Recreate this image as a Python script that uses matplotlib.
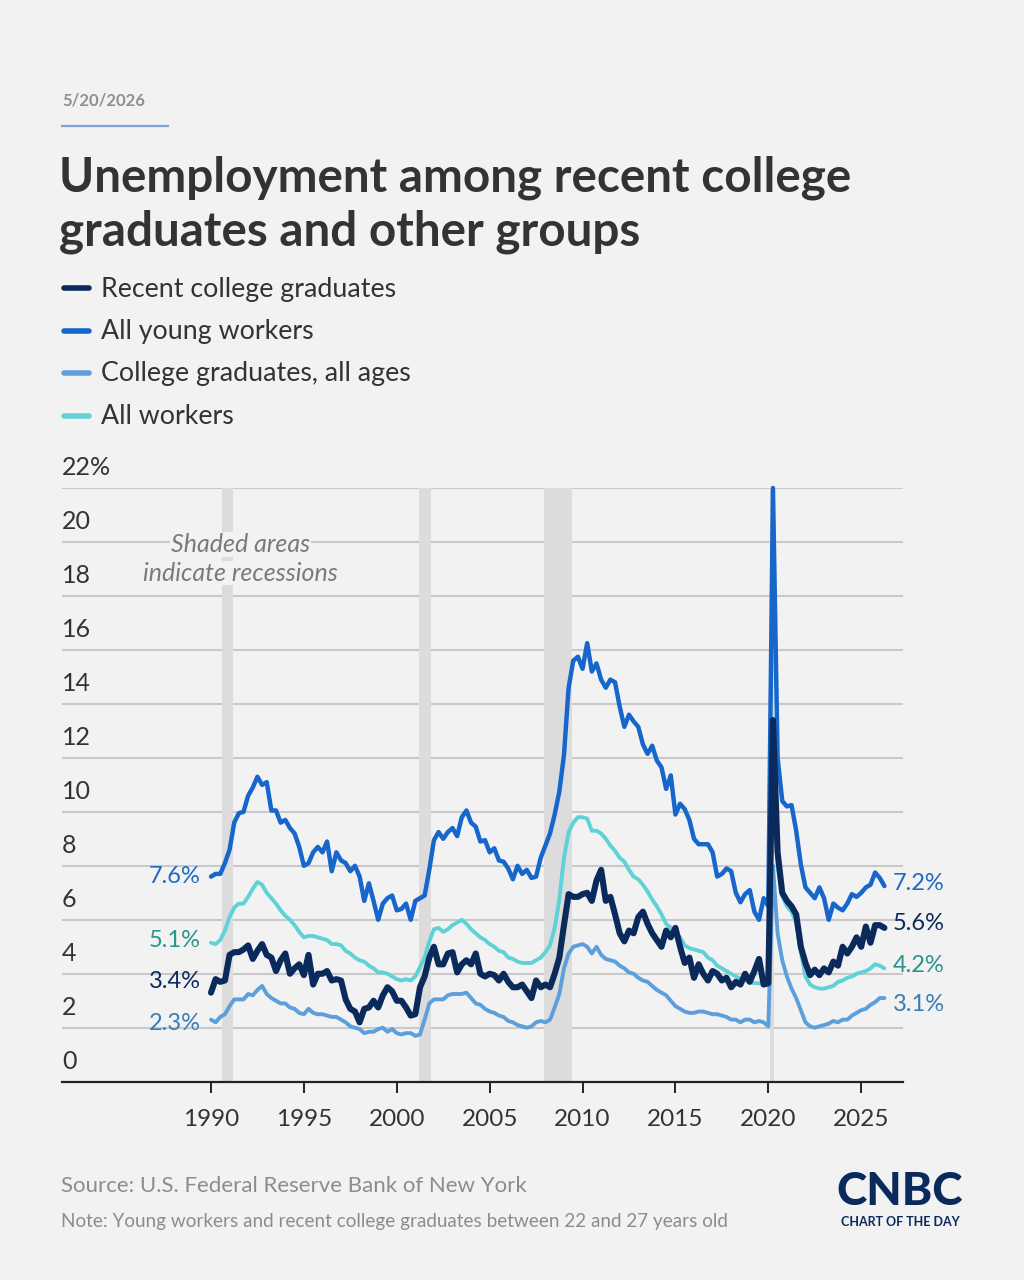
import numpy as np
import matplotlib.pyplot as plt
from matplotlib.transforms import blended_transform_factory

plt.rcParams['font.family'] = ['Lato', 'DejaVu Sans']

# Quarterly readings, 1990 Q1 .. 2026 Q2 (percent)
start_year = 1990
step = 0.25

recent_grads = [
    3.3, 3.8, 3.7, 3.75,   4.7, 4.8, 4.8, 4.9,   5.05, 4.55, 4.85, 5.1,
    4.7, 4.6, 4.1, 4.5,    4.75, 4.0, 4.2, 4.35,  3.95, 4.7, 3.6, 4.0,
    4.0, 4.1, 3.75, 3.8,   3.75, 3.05, 2.7, 2.6,  2.2, 2.7, 2.75, 3.0,
    2.75, 3.2, 3.5, 3.35,  3.0, 3.0, 2.75, 2.45,  2.5, 3.5, 3.9, 4.6,
    5.0, 4.35, 4.35, 4.75, 4.8, 4.05, 4.35, 4.5,  4.35, 4.75, 4.0, 3.9,
    4.0, 3.95, 3.75, 4.0,  3.7, 3.5, 3.5, 3.6,    3.35, 3.1, 3.75, 3.5,
    3.6, 3.5, 4.0, 4.6,    5.8, 6.95, 6.85, 6.85, 6.95, 7.0, 6.7, 7.45,
    7.85, 6.7, 6.85, 6.2,  5.5, 5.2, 5.6, 5.5,    6.1, 6.3, 5.85, 5.5,
    5.25, 5.0, 5.6, 5.35,  5.7, 5.0, 4.4, 4.6,    3.85, 4.35, 4.0, 3.75,
    4.1, 4.0, 3.75, 3.85,  3.5, 3.7, 3.6, 4.0,    3.7, 4.1, 4.55, 3.6,
    3.65, 13.4, 8.5, 7.0,  6.7, 6.5, 6.2, 5.0,    4.4, 3.95, 4.15, 3.95,
    4.2, 4.05, 4.45, 4.3,  5.0, 4.75, 5.0, 5.35,  5.0, 5.75, 5.15, 5.8,
    5.8, 5.7,
]

young_workers = [
    7.6, 7.7, 7.7, 8.1,    8.6, 9.6, 9.95, 10.0,  10.6, 10.9, 11.3, 11.0,
    11.1, 10.05, 10.05, 9.6, 9.7, 9.4, 9.2, 8.7,  8.0, 8.1, 8.5, 8.7,
    8.5, 8.9, 7.8, 8.5,    8.2, 8.1, 7.8, 8.0,    7.6, 6.7, 7.35, 6.7,
    6.0, 6.6, 6.8, 6.9,    6.35, 6.4, 6.6, 6.0,   6.7, 6.8, 6.9, 7.85,
    8.95, 9.25, 9.0, 9.25, 9.4, 9.1, 9.8, 10.05,  9.6, 9.45, 8.9, 8.95,
    8.5, 8.65, 8.2, 8.15,  7.9, 7.5, 8.0, 7.7,    7.85, 7.55, 7.6, 8.3,
    8.75, 9.2, 9.9, 10.75, 12.1, 14.6, 15.6, 15.75, 15.3, 16.25, 15.2, 15.5,
    14.9, 14.6, 14.9, 14.8, 13.9, 13.15, 13.6, 13.35, 13.15, 12.5, 12.15, 12.45,
    11.9, 11.65, 10.85, 11.35, 9.9, 10.3, 10.1, 9.7, 9.0, 8.8, 8.8, 8.8,
    8.5, 7.6, 7.7, 7.9,    7.8, 7.0, 6.65, 6.95,  7.1, 6.3, 6.0, 6.8,
    6.5, 22.0, 12.0, 10.4, 10.2, 10.25, 9.3, 8.05, 7.2, 7.0, 6.8, 7.2,
    6.8, 6.0, 6.6, 6.45,   6.35, 6.6, 6.95, 6.85, 7.0, 7.2, 7.3, 7.75,
    7.55, 7.25,
]

grads_all_ages = [
    2.3, 2.2, 2.4, 2.5,    2.8, 3.05, 3.05, 3.05, 3.25, 3.2, 3.4, 3.55,
    3.25, 3.1, 3.0, 2.9,   2.9, 2.75, 2.7, 2.55,  2.5, 2.7, 2.55, 2.5,
    2.5, 2.45, 2.4, 2.4,   2.3, 2.2, 2.05, 2.0,   1.95, 1.8, 1.85, 1.85,
    1.95, 2.0, 1.85, 1.95, 1.8, 1.75, 1.8, 1.8,   1.7, 1.75, 2.3, 2.9,
    3.05, 3.05, 3.05, 3.2, 3.25, 3.25, 3.25, 3.3, 3.1, 2.9, 2.85, 2.7,
    2.6, 2.55, 2.45, 2.4,  2.25, 2.2, 2.1, 2.05,  2.0, 2.05, 2.2, 2.25,
    2.2, 2.3, 2.75, 3.25,  4.2, 4.75, 5.0, 5.05,  5.1, 5.0, 4.75, 5.0,
    4.7, 4.55, 4.5, 4.45,  4.3, 4.2, 4.05, 4.0,   3.85, 3.75, 3.7, 3.55,
    3.4, 3.3, 3.2, 3.0,    2.8, 2.7, 2.6, 2.55,   2.55, 2.6, 2.6, 2.55,
    2.5, 2.5, 2.45, 2.4,   2.3, 2.3, 2.2, 2.3,    2.3, 2.2, 2.25, 2.2,
    2.05, 8.0, 5.5, 4.5,   3.9, 3.45, 3.1, 2.65,  2.2, 2.05, 2.0, 2.05,
    2.1, 2.15, 2.25, 2.2,  2.3, 2.3, 2.45, 2.55,  2.65, 2.7, 2.85, 2.95,
    3.1, 3.1,
]

all_workers = [
    5.15, 5.1, 5.25, 5.6,  6.1, 6.45, 6.6, 6.6,   6.85, 7.15, 7.4, 7.3,
    7.0, 6.8, 6.6, 6.35,   6.15, 6.0, 5.8, 5.55,  5.35, 5.4, 5.4, 5.35,
    5.3, 5.25, 5.1, 5.1,   5.05, 4.85, 4.75, 4.6, 4.5, 4.45, 4.3, 4.2,
    4.05, 4.05, 4.0, 3.9,  3.8, 3.75, 3.8, 3.75,  3.9, 4.25, 4.6, 5.2,
    5.65, 5.7, 5.55, 5.65, 5.8, 5.9, 6.0, 5.85,   5.65, 5.5, 5.35, 5.25,
    5.1, 5.0, 4.85, 4.8,   4.6, 4.55, 4.45, 4.4,  4.4, 4.4, 4.5, 4.6,
    4.8, 5.05, 5.7, 6.75,  8.3, 9.25, 9.6, 9.8,   9.8, 9.75, 9.3, 9.3,
    9.2, 9.0, 8.75, 8.55,  8.3, 8.15, 7.85, 7.6,  7.5, 7.3, 7.05, 6.75,
    6.5, 6.2, 5.85, 5.7,   5.5, 5.35, 5.05, 4.95, 4.9, 4.85, 4.8, 4.6,
    4.5, 4.3, 4.2, 4.1,    4.0, 3.9, 3.8, 3.75,   3.7, 3.65, 3.65, 3.6,
    3.6, 13.0, 8.0, 6.9,   6.5, 6.3, 5.9, 4.8,    3.9, 3.6, 3.5, 3.45,
    3.45, 3.5, 3.55, 3.7,  3.75, 3.85, 3.9, 4.0,  4.05, 4.1, 4.2, 4.35,
    4.3, 4.2,
]

series_names = ["Recent college graduates", "All young workers",
                "College graduates, all ages", "All workers"]
start_labels = ["3.4%", "7.6%", "2.3%", "5.1%"]
end_labels = ["5.6%", "7.2%", "3.1%", "4.2%"]

recessions = [(1990.58, 1991.17), (2001.17, 2001.83), (2007.92, 2009.42), (2020.08, 2020.3)]

y_ticks = [0, 2, 4, 6, 8, 10, 12, 14, 16, 18, 20, 22]
x_ticks = [1990, 1995, 2000, 2005, 2010, 2015, 2020, 2025]

# styling
bg = "#f2f2f2"
line_colors = ["#0b2a5c", "#1666cc", "#5d9fdb", "#5fd2d8"]
label_colors = ["#0b2a5c", "#1e6bc4", "#3a7db5", "#2a948e"]
line_widths = [4.4, 3.2, 2.8, 2.8]
start_offsets = [0.4, 0.0, -0.15, 0.1]
end_offsets = [0.15, 0.1, -0.25, 0.1]
draw_order = [3, 2, 1, 0]

W, H = 1024, 1280
fig = plt.figure(figsize=(W / 100, H / 100), dpi=100, facecolor=bg)


def px(x, y):
    return x / W, 1 - y / H


# header
fig.text(*px(62, 101), "5/20/2026", fontsize=12, fontweight="bold",
         color="#8f8f8f", va="center", ha="left")
fig.add_artist(plt.Line2D([62 / W, 168 / W], [1 - 126 / H] * 2, color="#7ea3d3", lw=1.6))
fig.text(*px(59, 192), "Unemployment among recent college", fontsize=34.3,
         fontweight="bold", color="#333333", va="baseline")
fig.text(*px(59, 246), "graduates and other groups", fontsize=34.3,
         fontweight="bold", color="#333333", va="baseline")

# legend
legend_y = [288, 331, 373, 416]
for name, col, ly in zip(series_names, line_colors, legend_y):
    fig.add_artist(plt.Line2D([64 / W, 89 / W], [1 - ly / H] * 2, color=col,
                              lw=4, solid_capstyle="round"))
    fig.text(*px(101, ly + 1), name, fontsize=19.3, color="#333333", va="center")

# plot area
x0, x1 = 1981.98, 2027.25
ax = fig.add_axes([62 / W, (H - 1081.7) / H, (903 - 62) / W, (1081.7 - 488) / H])
ax.set_facecolor(bg)
ax.set_xlim(x0, x1)
ax.set_ylim(0, 22)

for a, b in recessions:
    ax.axvspan(a, b, color="#dcdcdc", lw=0, zorder=1)

for v in y_ticks[1:]:
    ax.axhline(v, color="#c9c9c9", lw=1.5, zorder=0.5)

years = start_year + step * np.arange(len(recent_grads))
all_series = [recent_grads, young_workers, grads_all_ages, all_workers]
for i in draw_order:
    ax.plot(years, all_series[i], color=line_colors[i], lw=line_widths[i],
            solid_joinstyle="round", solid_capstyle="round", zorder=3 + (3 - i),
            clip_on=False)

for i, vals in enumerate(all_series):
    ax.text(1989.45, vals[0] + start_offsets[i], start_labels[i], ha="right",
            va="center", fontsize=17, color=label_colors[i])
    ax.text(2026.7, vals[-1] + end_offsets[i], end_labels[i], ha="left",
            va="center", fontsize=17, color=label_colors[i])

# y tick labels sit above gridlines at the left edge
trans = blended_transform_factory(ax.transAxes, ax.transData)
for v in y_ticks:
    lab = f"{v}%" if v == 22 else str(v)
    ax.text(0.0, v + 0.33, lab, transform=trans, ha="left", va="bottom",
            fontsize=18, color="#333333")

for txt, yv in [("Shaded areas", 19.9), ("indicate recessions", 18.85)]:
    ax.text(1991.6, yv, txt, ha="center", va="center", fontsize=18,
            style="italic", color="#7a7a7a", zorder=6,
            bbox=dict(facecolor=bg, edgecolor="none", pad=0.5))

for s in ["top", "right", "left"]:
    ax.spines[s].set_visible(False)
ax.spines["bottom"].set_color("#222222")
ax.spines["bottom"].set_linewidth(1.6)
ax.set_yticks([])
ax.set_xticks(x_ticks)
ax.set_xticklabels([str(x) for x in x_ticks], fontsize=17.5, color="#333333")
ax.tick_params(axis="x", length=8, width=1.4, color="#222222", pad=12)

# footer
fig.text(*px(61, 1186), "Source: U.S. Federal Reserve Bank of New York", fontsize=16,
         color="#8c8c8c", va="center")
fig.text(*px(61, 1221), "Note: Young workers and recent college graduates between 22 and 27 years old",
         fontsize=13.6, color="#8c8c8c", va="center")
fig.text(*px(900, 1192), "CNBC", fontsize=33, fontweight="black", color="#0b2a5c",
         ha="center", va="center")
fig.text(*px(900, 1222), "CHART OF THE DAY", fontsize=9, fontweight="bold",
         color="#0b2a5c", ha="center", va="center")

fig.savefig("out.png", dpi=100, facecolor=bg)
